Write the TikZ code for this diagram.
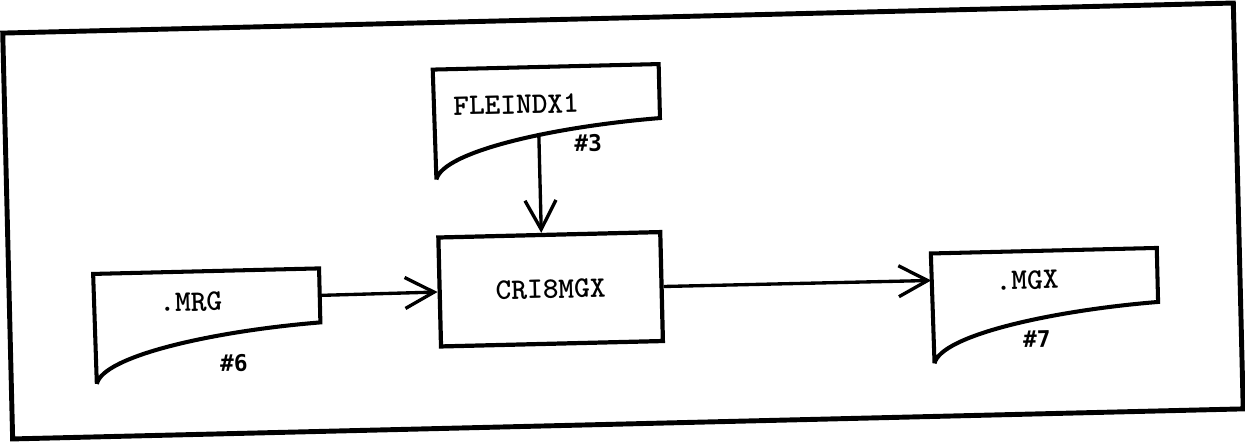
\documentclass[tikz,border=0pt]{standalone}
\usepackage{fontspec}
\newfontfamily\labfont{DejaVu Sans Mono}
\usetikzlibrary{arrows.meta}
\begin{document}
\begin{tikzpicture}[x=0.02cm,y=-0.02cm,
  frame/.style={line width=2.8pt},
  docline/.style={line width=2.3pt, line join=miter},
  docrect/.style={minimum width=4.52cm, minimum height=1.08cm, inner sep=0pt, draw=none},
  procbox/.style={draw, line width=2.4pt, minimum width=4.44cm, minimum height=2.18cm, inner sep=0pt,
    font=\ttfamily\bfseries\fontsize{17}{20}\selectfont},
  doctext/.style={font=\ttfamily\bfseries\fontsize{17}{20}\selectfont, inner sep=0pt},
  numtext/.style={font=\labfont\bfseries\fontsize{13}{15}\selectfont, inner sep=0pt},
  flow/.style={line width=1.9pt, -{Straight Barb[length=0.58cm,width=0.62cm]}},
]
\useasboundingbox (0,0) rectangle (1245,444);
\begin{scope}[rotate around={1.4:(622,222)}, transform shape]
  % outer frame
  \draw[frame] (7.5,18) rectangle (1238.5,424);

  % process box
  \node[procbox] (proc) at (549,287.5) {CRI8MGX};

  % FLEINDX1 document
  \begin{scope}[shift={(436.5,65)}]
    \node[docrect] (fle) at (113,27) {};
    \draw[docline] (1,110) -- (0,0) -- (226,0) -- (226,54)
      .. controls (120,60) and (8,82) .. (1,110);
    \node[doctext] (fletext) at (82.5,37) {FLEINDX1};
    \node[numtext] (flenum) at (153.5,77) {\#3};
    \coordinate (fletail) at (104.5,66);
  \end{scope}

  % .MRG document
  \begin{scope}[shift={(92,261)}]
    \node[docrect] (mrg) at (113,27) {};
    \draw[docline] (1,110) -- (0,0) -- (226,0) -- (226,54)
      .. controls (120,60) and (8,82) .. (1,110);
    \node[doctext] (mrgtext) at (97,30.5) {.MRG};
    \node[numtext] (mrgnum) at (138.6,92.5) {\#6};
  \end{scope}

  % .MGX document
  \begin{scope}[shift={(930,261)}]
    \node[docrect] (mgx) at (113,27) {};
    \draw[docline] (1,110) -- (0,0) -- (226,0) -- (226,54)
      .. controls (120,60) and (8,82) .. (1,110);
    \node[doctext] (mgxtext) at (95.6,29) {.MGX};
    \node[numtext] (mgxnum) at (104,88) {\#7};
  \end{scope}

  % connectors
  \draw[flow] (fletail) -- (proc.98.4);
  \draw[flow] (mrg.east) -- (proc.west);
  \draw[flow] (proc.east) -- (mgx.west);
\end{scope}
\end{tikzpicture}
\end{document}
